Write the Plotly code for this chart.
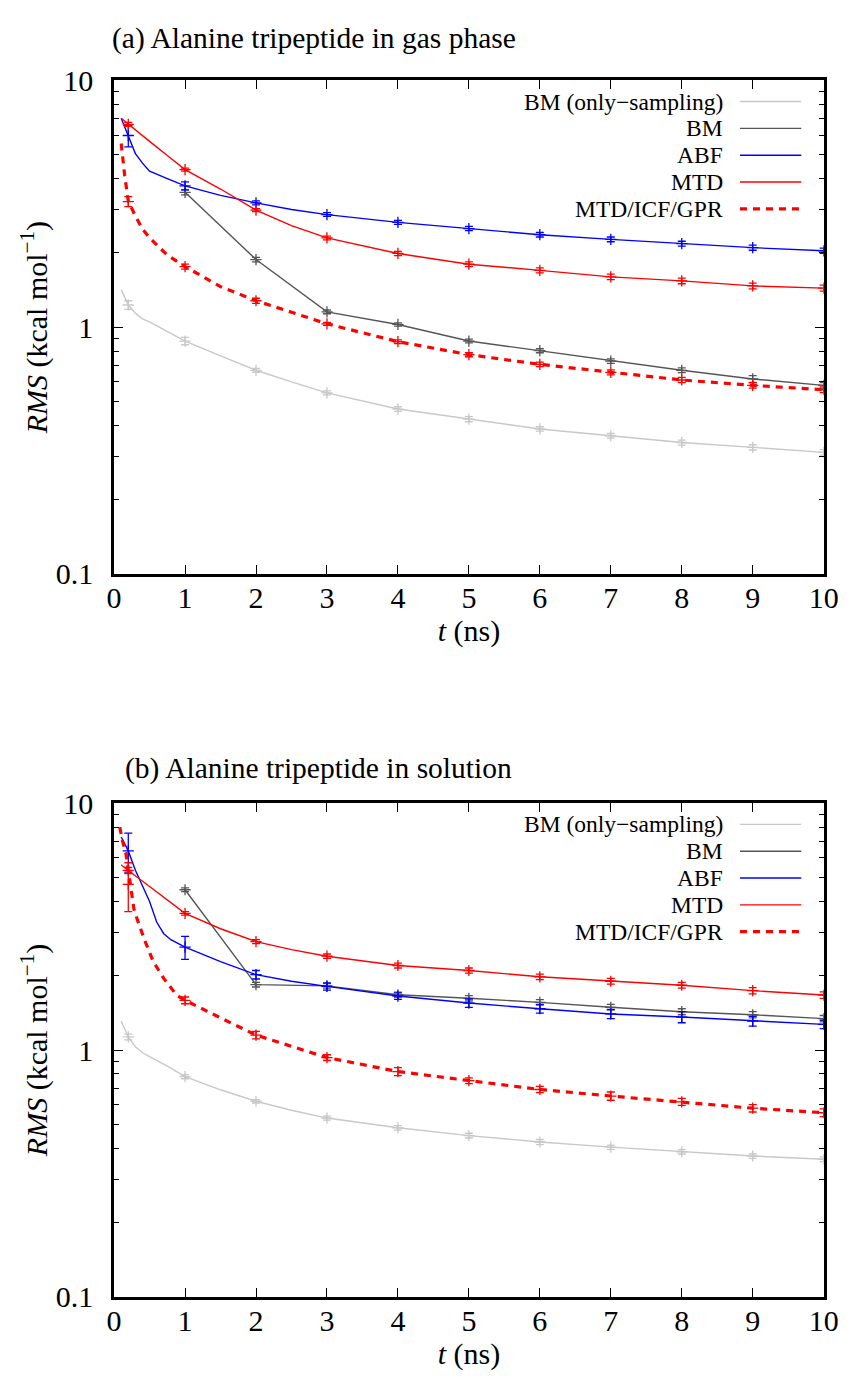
import plotly.graph_objects as go

W, H = 863, 1386

# ---------------- data: panel (a) gas phase ----------------
a_bmos_t = [0.1, 0.2, 0.3, 0.4, 0.5, 0.75, 1, 1.5, 2, 2.5, 3, 4, 5, 6, 7, 8, 9, 10]
a_bmos_y = [1.42, 1.23, 1.14, 1.08, 1.05, 0.96, 0.879, 0.765, 0.669, 0.60, 0.542, 0.466, 0.424, 0.387, 0.363, 0.341, 0.326, 0.311]
a_bm_t = [1, 2, 3, 4, 5, 6, 7, 8, 9, 10]
a_bm_y = [3.52, 1.88, 1.154, 1.026, 0.879, 0.803, 0.729, 0.669, 0.617, 0.581]
a_abf_t = [0.1, 0.2, 0.3, 0.4, 0.5, 0.75, 1, 1.5, 2, 2.5, 3, 4, 5, 6, 7, 8, 9, 10]
a_abf_y = [7.02, 5.98, 5.05, 4.62, 4.29, 4.0, 3.74, 3.42, 3.19, 3.0, 2.86, 2.66, 2.51, 2.37, 2.27, 2.18, 2.10, 2.04]
a_mtd_t = [0.1, 0.2, 0.3, 0.5, 0.75, 1, 1.5, 2, 2.5, 3, 4, 5, 6, 7, 8, 9, 10]
a_mtd_y = [7.02, 6.64, 6.29, 5.66, 4.96, 4.35, 3.63, 2.98, 2.58, 2.30, 1.99, 1.80, 1.70, 1.60, 1.54, 1.47, 1.44]
a_gpr_t = [0.1, 0.15, 0.2, 0.3, 0.4, 0.5, 0.75, 1, 1.5, 2, 2.5, 3, 4, 5, 6, 7, 8, 9, 10]
a_gpr_y = [5.55, 4.1, 3.25, 2.82, 2.5, 2.3, 1.96, 1.76, 1.46, 1.28, 1.15, 1.032, 0.874, 0.774, 0.707, 0.656, 0.611, 0.581, 0.558]

# error-bar points (a)
a_err_t = [0.2, 1, 2, 3, 4, 5, 6, 7, 8, 9, 10]
a_bmos_ey = [1.23, 0.879, 0.669, 0.542, 0.466, 0.424, 0.387, 0.363, 0.341, 0.326, 0.311]
a_bmos_ee = [0.05, 0.03, 0.012, 0.01, 0.01, 0.01, 0.008, 0.008, 0.008, 0.008, 0.008]
a_bm_et = [1, 2, 3, 4, 5, 6, 7, 8, 9, 10]
a_bm_ey = [3.52, 1.88, 1.154, 1.026, 0.879, 0.803, 0.729, 0.669, 0.617, 0.581]
a_bm_ee = [0.08, 0.04, 0.02, 0.015, 0.015, 0.015, 0.015, 0.015, 0.02, 0.015]
a_abf_ey = [5.98, 3.74, 3.19, 2.86, 2.66, 2.51, 2.37, 2.27, 2.18, 2.10, 2.04]
a_abf_ee = [0.6, 0.14, 0.06, 0.05, 0.05, 0.05, 0.05, 0.05, 0.05, 0.05, 0.05]
a_mtd_ey = [6.64, 4.35, 2.98, 2.30, 1.99, 1.80, 1.70, 1.60, 1.54, 1.47, 1.44]
a_mtd_ee = [0.12, 0.06, 0.04, 0.04, 0.04, 0.04, 0.04, 0.04, 0.04, 0.04, 0.04]
a_gpr_ey = [3.23, 1.76, 1.28, 1.032, 0.874, 0.774, 0.707, 0.656, 0.611, 0.581, 0.558]
a_gpr_ee = [0.15, 0.04, 0.03, 0.015, 0.015, 0.015, 0.015, 0.015, 0.015, 0.015, 0.015]

# ---------------- data: panel (b) solution ----------------
b_bmos_t = [0.1, 0.2, 0.3, 0.4, 0.5, 0.75, 1, 1.5, 2, 2.5, 3, 4, 5, 6, 7, 8, 9, 10]
b_bmos_y = [1.31, 1.13, 1.03, 0.975, 0.94, 0.86, 0.78, 0.69, 0.62, 0.57, 0.530, 0.484, 0.450, 0.424, 0.404, 0.387, 0.372, 0.361]
b_bm_t = [1, 2, 3, 4, 5, 6, 7, 8, 9, 10]
b_bm_y = [4.46, 1.84, 1.82, 1.675, 1.62, 1.56, 1.49, 1.43, 1.39, 1.34]
b_abf_t = [0.1, 0.2, 0.3, 0.5, 0.6, 0.7, 0.8, 1, 1.5, 2, 2.5, 3, 4, 5, 6, 7, 8, 9, 10]
b_abf_y = [7.3, 6.41, 5.35, 4.0, 3.3, 2.96, 2.8, 2.61, 2.28, 2.02, 1.9, 1.81, 1.655, 1.55, 1.47, 1.40, 1.36, 1.31, 1.27]
b_mtd_t = [0.1, 0.2, 0.5, 0.75, 1, 1.5, 2, 2.5, 3, 4, 5, 6, 7, 8, 9, 10]
b_mtd_y = [5.63, 5.34, 4.6, 4.06, 3.58, 3.10, 2.75, 2.55, 2.40, 2.20, 2.10, 1.98, 1.90, 1.83, 1.74, 1.67]
b_gpr_t = [0.08, 0.12, 0.165, 0.22, 0.28, 0.33, 0.43, 0.55, 0.7, 0.88, 1, 1.5, 2, 2.5, 3, 4, 5, 6, 7, 8, 9, 10]
b_gpr_y = [8.0, 7.0, 6.3, 4.9, 3.72, 3.36, 2.79, 2.29, 1.95, 1.67, 1.59, 1.35, 1.15, 1.035, 0.932, 0.818, 0.751, 0.692, 0.651, 0.617, 0.581, 0.557]

# error-bar points (b)
b_err_t = [0.2, 1, 2, 3, 4, 5, 6, 7, 8, 9, 10]
b_bmos_ey = [1.13, 0.78, 0.62, 0.530, 0.484, 0.450, 0.424, 0.404, 0.387, 0.372, 0.361]
b_bmos_ee = [0.03, 0.015, 0.01, 0.01, 0.01, 0.01, 0.01, 0.008, 0.008, 0.008, 0.008]
b_bm_et = [1, 2, 3, 4, 5, 6, 7, 8, 9, 10]
b_bm_ey = [4.46, 1.84, 1.82, 1.675, 1.62, 1.56, 1.49, 1.43, 1.39, 1.34]
b_bm_ee = [0.08, 0.04, 0.04, 0.04, 0.04, 0.04, 0.04, 0.04, 0.04, 0.04]
b_abf_ey = [6.41, 2.61, 2.02, 1.81, 1.655, 1.55, 1.47, 1.40, 1.36, 1.31, 1.27]
b_abf_ee = [1.15, 0.28, 0.08, 0.06, 0.05, 0.06, 0.06, 0.06, 0.07, 0.06, 0.05]
b_mtd_ey = [5.34, 3.58, 2.75, 2.40, 2.20, 2.10, 1.98, 1.90, 1.83, 1.74, 1.67]
b_mtd_ee = [0.15, 0.06, 0.05, 0.05, 0.05, 0.05, 0.05, 0.05, 0.05, 0.05, 0.05]
b_gpr_ey = [4.69, 1.59, 1.15, 0.932, 0.818, 0.751, 0.692, 0.651, 0.617, 0.581, 0.557]
b_gpr_ee = [1.05, 0.05, 0.04, 0.025, 0.03, 0.02, 0.02, 0.025, 0.02, 0.02, 0.02]

series_names = ["BM (only\u2212sampling)", "BM", "ABF", "MTD", "MTD/ICF/GPR"]
colors = ["#c8c8c8", "#555555", "#0000ff", "#ff0000", "#ff0000"]
widths = [1.4, 1.4, 1.4, 1.4, 3.2]
dashes = ["solid", "solid", "solid", "solid", "7px,6px"]

FONT = "Liberation Serif, Times New Roman, serif"
FS_TICK = 30
FS_AXT = 30
FS_LEG = 23.5
FS_TITLE = 29.5

# pixel geometry
X0, X1 = 109, 838
panels = [
    dict(top=65, bot=571, xa="x", ya="y", title="(a) Alanine tripeptide in gas phase", tx=105, ty=22,
         lines=[(a_bmos_t, a_bmos_y), (a_bm_t, a_bm_y), (a_abf_t, a_abf_y), (a_mtd_t, a_mtd_y), (a_gpr_t, a_gpr_y)],
         errs=[(a_err_t, a_bmos_ey, a_bmos_ee), (a_bm_et, a_bm_ey, a_bm_ee), (a_err_t, a_abf_ey, a_abf_ee),
               (a_err_t, a_mtd_ey, a_mtd_ee), (a_err_t, a_gpr_ey, a_gpr_ee)]),
    dict(top=806, bot=1312, xa="x2", ya="y2", title="(b) Alanine tripeptide in solution", tx=118, ty=770,
         lines=[(b_bmos_t, b_bmos_y), (b_bm_t, b_bm_y), (b_abf_t, b_abf_y), (b_mtd_t, b_mtd_y), (b_gpr_t, b_gpr_y)],
         errs=[(b_err_t, b_bmos_ey, b_bmos_ee), (b_bm_et, b_bm_ey, b_bm_ee), (b_err_t, b_abf_ey, b_abf_ee),
               (b_err_t, b_mtd_ey, b_mtd_ee), (b_err_t, b_gpr_ey, b_gpr_ee)]),
]

fig = go.Figure()
annotations = []
shapes = []

minor_vals = [m * 10 ** e for e in (-1, 0) for m in range(2, 10)]

for p in panels:
    for i in range(5):
        (lt, ly) = p["lines"][i]
        (et, ey, ee) = p["errs"][i]
        fig.add_trace(go.Scatter(
            x=lt, y=ly, mode="lines", xaxis=p["xa"], yaxis=p["ya"],
            line=dict(color=colors[i], width=widths[i], dash=dashes[i]),
            showlegend=False, hoverinfo="skip"))
        fig.add_trace(go.Scatter(
            x=et, y=ey, mode="markers", xaxis=p["xa"], yaxis=p["ya"],
            marker=dict(symbol="cross-thin", size=8, color=colors[i],
                        line=dict(width=1.3, color=colors[i])),
            error_y=dict(type="data", array=ee, visible=True, color=colors[i], thickness=1.3, width=4),
            showlegend=False, hoverinfo="skip"))
    # panel title
    annotations.append(dict(text=p["title"], x=p["tx"] / W, y=1 - p["ty"] / H, xref="paper", yref="paper",
                            xanchor="left", yanchor="middle", showarrow=False,
                            font=dict(family=FONT, size=FS_TITLE, color="black")))
    # legend (gnuplot style: right-aligned text, sample to the right)
    for i in range(5):
        ry = p["top"] + 21.7 + 27.5 * i
        annotations.append(dict(text=series_names[i], x=737 / W, y=1 - ry / H, xref="paper", yref="paper",
                                xanchor="right", yanchor="middle", showarrow=False,
                                font=dict(family=FONT, size=FS_LEG, color="black")))
        shapes.append(dict(type="line", xref="paper", yref="paper", x0=752 / W, x1=815 / W,
                           y0=1 - ry / H, y1=1 - ry / H,
                           line=dict(color=colors[i], width=widths[i], dash=dashes[i])))

axis_common = dict(showline=True, linecolor="black", linewidth=2.5, mirror="ticks",
                   ticks="inside", ticklen=9, tickwidth=1.3, tickcolor="black",
                   showgrid=False, zeroline=False,
                   tickfont=dict(family=FONT, size=FS_TICK, color="black"))

layout_axes = {}
for k, p in enumerate(panels):
    xd = [X0 / W, X1 / W]
    yd = [1 - p["bot"] / H, 1 - p["top"] / H]
    xname = "xaxis" if k == 0 else "xaxis2"
    yname = "yaxis" if k == 0 else "yaxis2"
    layout_axes[xname] = dict(axis_common, domain=xd, range=[0, 10], tickmode="linear", tick0=0, dtick=1,
                              anchor=p["ya"], ticklabelstandoff=-5,
                              title=dict(text="<i>t</i> (ns)", font=dict(family=FONT, size=FS_AXT, color="black"),
                                         standoff=0))
    layout_axes[yname] = dict(axis_common, domain=yd, type="log", range=[-1, 1],
                              tickmode="array", tickvals=[0.1, 1, 10], ticktext=["0.1", "1", "10"],
                              anchor=p["xa"], ticklabelstandoff=12,
                              minor=dict(ticks="inside", ticklen=5, tickwidth=1.3, tickcolor="black",
                                         tickmode="array", tickvals=minor_vals, showgrid=False),
                              title=dict(text="<i>RMS</i> (kcal mol<sup>\u22121</sup>)",
                                         font=dict(family=FONT, size=FS_AXT, color="black"), standoff=0))

fig.update_layout(width=W, height=H, margin=dict(l=0, r=0, t=0, b=0),
                  font=dict(family=FONT, size=FS_TICK, color="black"),
                  paper_bgcolor="white", plot_bgcolor="white",
                  annotations=annotations, shapes=shapes, **layout_axes)

fig.write_html("out.html")
